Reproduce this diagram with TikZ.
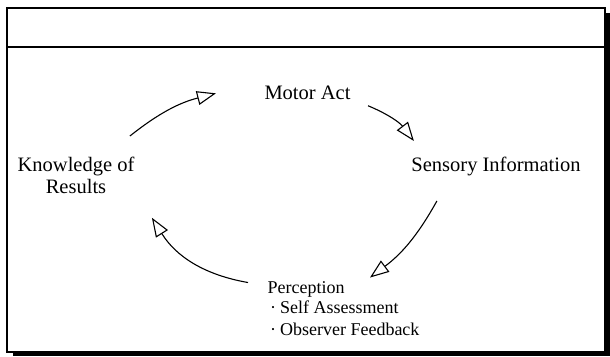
\documentclass[tikz,border=0pt]{standalone}
\usepackage{fontspec}
\setmainfont{Liberation Serif}
\usetikzlibrary{arrows.meta}

\newcommand{\bulletitem}{\hspace{2.5pt}·\hspace{4pt}}

\begin{document}
\begin{tikzpicture}[x=1pt,y=1pt,>={Triangle[open,length=19pt,width=14pt]},
                    line width=1.1pt]
  \tikzstyle{every node}=[inner sep=0pt,font=\fontsize{20.5}{21}\selectfont]
  \tikzstyle{frame}=[draw,line width=1.4pt]

  \useasboundingbox (0,0) rectangle (610,356);
  \fill (13,0) rectangle (610,343);
  \draw[frame,fill=white] (7,4) rectangle (605,348);
  \draw[frame] (7,309) -- (605,309);

  \node (ma) [anchor=base] at (307.5,256) {Motor Act};
  \node (si) [anchor=base] at (496,184) {Sensory Information};
  \node (kr) [anchor=base,align=center,font=\fontsize{20.5}{22}\selectfont] at (76,162) {Knowledge of\\Results};
  \node (pc) [anchor=base west,align=left,font=\fontsize{18}{21}\selectfont] at (267,21)
        {Perception\\\bulletitem Self Assessment\\\bulletitem Observer Feedback};

  \path[->] ([shift={(-5,21)}]kr.north east) edge [bend left=12] ([xshift=-48pt]ma.west)
            ([shift={(17,-5)}]ma.south east) edge [bend left=15] ([shift={(3,16)}]si.north west)
            ([shift={(26,-24)}]si.south west) edge [bend left=12] ([shift={(103,3)}]pc.north west)
            ([shift={(-19,-2)}]pc.north west) edge [bend left=24] ([shift={(17,-23)}]kr.south east);
\end{tikzpicture}
\end{document}
